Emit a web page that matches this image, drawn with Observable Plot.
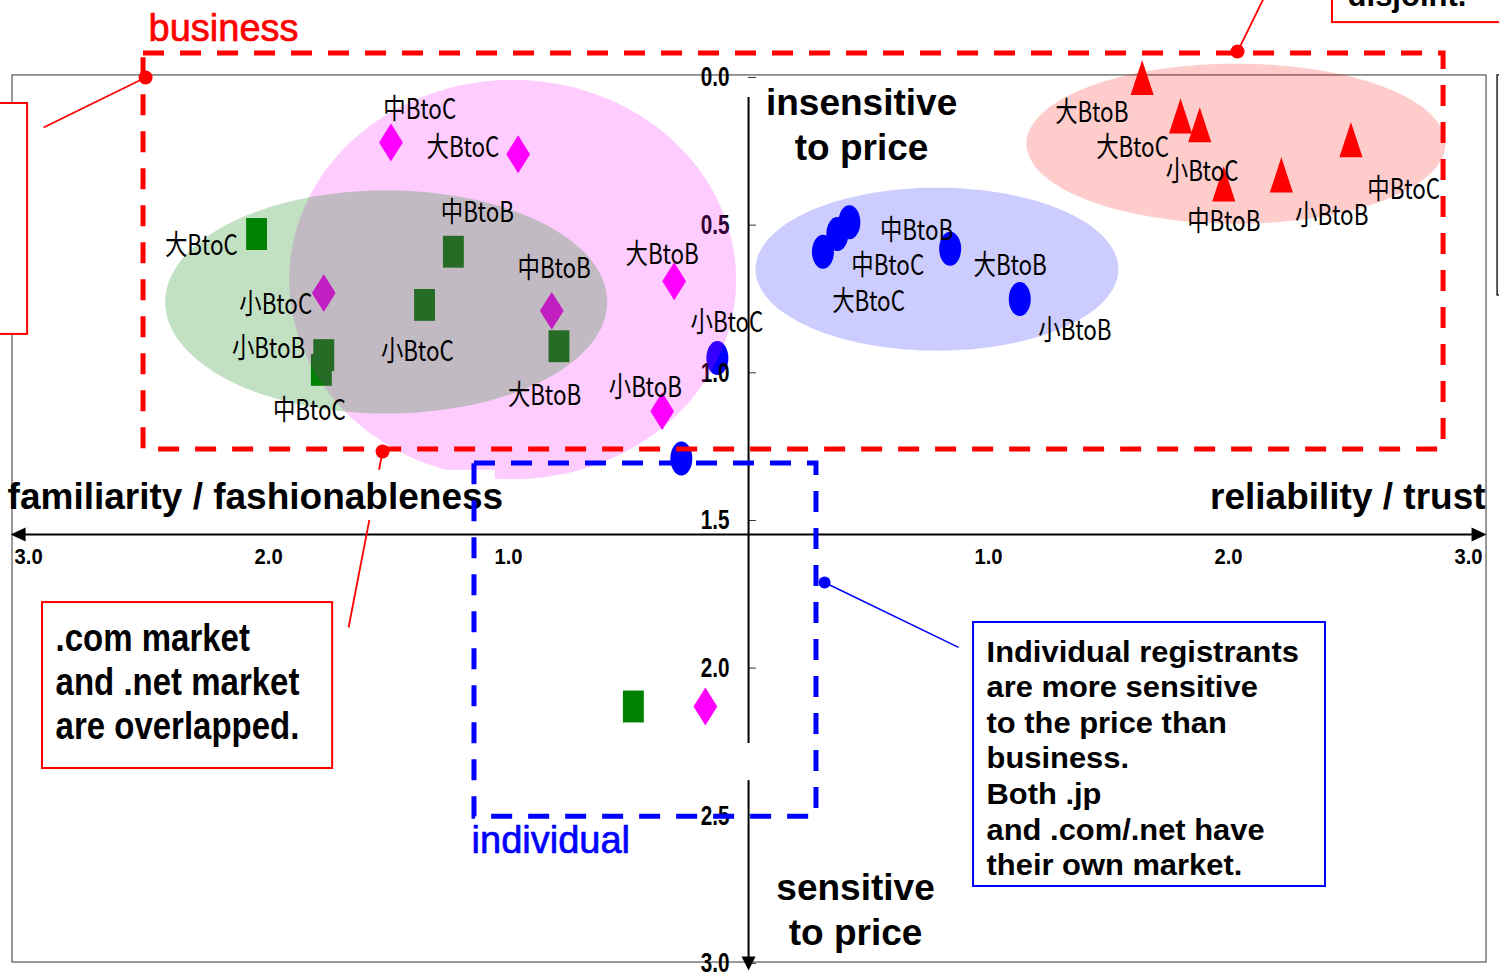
<!DOCTYPE html>
<html>
<head>
<meta charset="utf-8">
<script src="https://cdn.jsdelivr.net/npm/d3@7"></script>
<script src="https://cdn.jsdelivr.net/npm/@observablehq/plot@0.6"></script>
<style>
html, body { margin: 0; padding: 0; background: #fff; overflow: hidden; }
#chart svg { display: block; }
</style>
</head>
<body>
<div id="chart"></div>
<script>
// x < 0 : familiarity / fashionableness, x > 0 : reliability / trust
// y : 0 = insensitive to price ... 3 = sensitive to price
const comX = [-2.05, -1.23, -1.35, -0.79, -1.77, -1.78, -0.48];
const comY = [0.53, 0.59, 0.77, 0.91, 0.94, 0.99, 2.13];
const comLabels = ["大BtoC", "中BtoB", "小BtoC", "大BtoB", "小BtoB", "中BtoC", ""];
const comLabelX = [-2.28, -1.13, -1.38, -0.85, -2.00, -1.83, null];
const comLabelY = [0.57, 0.46, 0.93, 1.08, 0.92, 1.13, null];

const netX = [-1.49, -0.96, -1.77, -0.82, -0.31, -0.36, -0.18];
const netY = [0.22, 0.26, 0.73, 0.79, 0.69, 1.13, 2.13];
const netLabels = ["中BtoC", "大BtoC", "小BtoC", "中BtoB", "大BtoB", "小BtoB", ""];
const netLabelX = [-1.37, -1.19, -1.97, -0.81, -0.36, -0.43, null];
const netLabelY = [0.11, 0.24, 0.77, 0.65, 0.60, 1.05, null];

const jpX = [0.42, 0.37, 0.31, 0.84, 1.13, -0.13, -0.28];
const jpY = [0.49, 0.53, 0.59, 0.58, 0.75, 0.95, 1.29];
const jpLabels = ["中BtoB", "中BtoC", "大BtoC", "大BtoB", "小BtoB", "小BtoC", ""];
const jpLabelX = [0.70, 0.58, 0.50, 1.09, 1.36, -0.09, null];
const jpLabelY = [0.52, 0.64, 0.76, 0.64, 0.86, 0.83, null];

const cojpX = [1.64, 1.80, 1.88, 1.98, 2.22, 2.51];
const cojpY = [0.00, 0.13, 0.16, 0.36, 0.33, 0.21];
const cojpLabels = ["大BtoB", "大BtoC", "小BtoC", "中BtoB", "小BtoB", "中BtoC"];
const cojpLabelX = [1.43, 1.60, 1.89, 1.98, 2.43, 2.73];
const cojpLabelY = [0.12, 0.24, 0.32, 0.49, 0.47, 0.38];

// market clusters (ellipses): .net, .com, .jp, .co.jp
const clusterCX = [-0.983, -1.510, 0.785, 2.031];
const clusterCY = [0.684, 0.760, 0.649, 0.224];
const clusterRX = [0.931, 0.921, 0.756, 0.873];
const clusterRY = [0.676, 0.378, 0.276, 0.271];

const yTicks = [0, 0.5, 1, 1.5, 2, 2.5, 3];
const xTicks = [-3, -2, -1, 1, 2, 3];
const xAxisAt = [1.5476];

// annotations
const businessZone = [{x1: -2.521, x2: 2.896, y1: -0.081, y2: 1.260}];
const individualZone = [{x1: -1.142, x2: 0.283, y1: 1.307, y2: 2.503}];
const redBoxes = [
  {x1: -2.942, x2: -1.733, y1: 1.778, y2: 2.340},
  {x1: -3.300, x2: -3.004, y1: 0.088, y2: 0.870},
  {x1: 2.433, x2: 3.300, y1: -0.450, y2: -0.186}
];
const blueBoxes = [{x1: 0.9375, x2: 2.404, y1: 1.8456, y2: 2.7396}];
const blackBoxes = [{x1: 3.121, x2: 3.400, y1: -0.007, y2: 0.738}];
const redPins = [
  {x: -2.5125, y: 0.000, x2: -2.9375, y2: 0.1693},
  {x: 2.0375, y: -0.088, x2: 2.146, y2: -0.2675},
  {x: -1.525, y: 1.2665, x2: -1.6667, y2: 1.8625}
];
const bluePins = [{x: 0.3167, y: 1.710, x2: 0.875, y2: 1.930}];
const redNote = [{x: -2.8875, y: 2.045, text: ".com market\nand .net market\nare overlapped."}];
const blueNote = [{x: 0.9917, y: 2.301, text: "Individual registrants\nare more sensitive\nto the price than\nbusiness.\nBoth .jp\nand .com/.net have\ntheir own market."}];

// ---- build rows
const rows = (xs, ys, labels, lxs, lys) => xs.map((x, i) => ({x, y: ys[i], label: labels[i], lx: lxs[i], ly: lys[i]}));
const com = rows(comX, comY, comLabels, comLabelX, comLabelY);
const net = rows(netX, netY, netLabels, netLabelX, netLabelY);
const jp = rows(jpX, jpY, jpLabels, jpLabelX, jpLabelY);
const cojp = rows(cojpX, cojpY, cojpLabels, cojpLabelX, cojpLabelY);
const labelled = [...com, ...net, ...jp, ...cojp].filter(d => d.label);

const ellipse = (i) => d3.range(0, 360, 2).map(a => ({
  x: clusterCX[i] + clusterRX[i] * Math.cos(a * Math.PI / 180),
  y: clusterCY[i] + clusterRY[i] * Math.sin(a * Math.PI / 180)
}));

// ---- custom (vertically stretched) symbols
const rad = s => Math.sqrt(s / Math.PI);
const symRect = {draw(c, s) { const r = rad(s), w = r * 0.95, h = r * 1.45; c.moveTo(-w, -h); c.lineTo(w, -h); c.lineTo(w, h); c.lineTo(-w, h); c.closePath(); }};
const symDiamond = {draw(c, s) { const r = rad(s), w = r * 1.08, h = r * 1.72; c.moveTo(0, -h); c.lineTo(w, 0); c.lineTo(0, h); c.lineTo(-w, 0); c.closePath(); }};
const symOval = {draw(c, s) { const r = rad(s), a = r, b = r * 1.55, k = 0.5523;
  c.moveTo(a, 0); c.bezierCurveTo(a, b * k, a * k, b, 0, b); c.bezierCurveTo(-a * k, b, -a, b * k, -a, 0);
  c.bezierCurveTo(-a, -b * k, -a * k, -b, 0, -b); c.bezierCurveTo(a * k, -b, a, -b * k, a, 0); c.closePath(); }};
const symTriangle = {draw(c, s) { const r = rad(s), w = r * 1.05, h = r * 1.6; c.moveTo(0, -h); c.lineTo(w, h); c.lineTo(-w, h); c.closePath(); }};
const arrowDown = {draw(c, s) { const r = rad(s), w = r * 0.5; c.moveTo(0, 0); c.lineTo(w, -r); c.lineTo(-w, -r); c.closePath(); }};
const arrowRight = {draw(c, s) { const r = rad(s), w = r * 0.47; c.moveTo(0, 0); c.lineTo(-r, -w); c.lineTo(-r, w); c.closePath(); }};
const arrowLeft = {draw(c, s) { const r = rad(s), w = r * 0.47; c.moveTo(0, 0); c.lineTo(r, -w); c.lineTo(r, w); c.closePath(); }};

const LAT = "Liberation Sans, Arial, sans-serif";
const CJK = "Noto Sans CJK JP, sans-serif";
const clusterFill = ["#ff00ff", "#008000", "#0000ff", "#ff0000"];
const tag = name => ({ariaLabel: () => name, ariaDescription: name});

const plot = Plot.plot({
  width: 1499,
  height: 973,
  margin: 0,
  style: {background: "white", fontFamily: LAT},
  x: {domain: [-3.117, 3.129], axis: null},
  y: {domain: [-0.2608, 3.0342], reverse: true, axis: null},
  marks: [
    // outer frame
    Plot.rect([0], {x1: -3.067, x2: 3.075, y1: -0.007, y2: 2.997, fill: "none", stroke: "#555", strokeWidth: 1.2}),
    Plot.rect(blackBoxes, {x1: "x1", x2: "x2", y1: "y1", y2: "y2", fill: "white", stroke: "#222", strokeWidth: 1.5}),
    // axes
    Plot.ruleY(yTicks, {x1: 0, x2: 0.033, stroke: "#333", strokeWidth: 1}),
    Plot.ruleX([{y1: 0.068, y2: 2.255}, {y1: 2.381, y2: 2.98}], {x: 0, y1: "y1", y2: "y2", stroke: "black", strokeWidth: 2}),
    Plot.dot([0], {x: 0, y: 3.024, symbol: arrowDown, r: 14, fill: "black"}),
    Plot.ruleY(xAxisAt, {x1: -3.03, x2: 3.03, stroke: "black", strokeWidth: 2}),
    Plot.dot(xAxisAt, {x: 3.075, y: d => d, symbol: arrowRight, r: 15, fill: "black"}),
    Plot.dot(xAxisAt, {x: -3.075, y: d => d, symbol: arrowLeft, r: 15, fill: "black"}),
    // markers
    Plot.dot(com, {x: "x", y: "y", symbol: symRect, r: 11, fill: "#008000"}),
    Plot.dot(net, {x: "x", y: "y", symbol: symDiamond, r: 11, fill: "#ff00ff"}),
    Plot.dot(jp, {x: "x", y: "y", symbol: symOval, r: 11, fill: "#0000ff"}),
    Plot.dot(cojp, {x: "x", y: "y", symbol: symTriangle, r: 11, fill: "#ff0000"}),
    // tick labels
    Plot.text(yTicks, {x: 0, y: d => d, text: d => d.toFixed(1), textAnchor: "end", dx: -19, fontSize: 28, fontWeight: "bold", fontFamily: LAT, fill: "black", ...tag("ytick-labels")}),
    Plot.text(xTicks, {x: d => d, y: 1.622, text: d => Math.abs(d).toFixed(1), fontSize: 22, fontWeight: "bold", fontFamily: LAT, fill: "black", ...tag("xtick-labels")}),
    // market ellipses
    ...[0, 1, 2, 3].map(i => Plot.line(ellipse(i), {x: "x", y: "y", curve: "linear-closed", fill: clusterFill[i], fillOpacity: i === 1 ? 0.24 : 0.2, stroke: "none"})),
    // connectors
    Plot.link(redPins, {x1: "x", y1: "y", x2: "x2", y2: "y2", stroke: "#ff0000", strokeWidth: 1.8}),
    Plot.link(bluePins, {x1: "x", y1: "y", x2: "x2", y2: "y2", stroke: "#0000ff", strokeWidth: 1.5}),
    // white box behind left axis title
    Plot.rect([0], {x1: -3.06, x2: -1.055, y1: 1.33, y2: 1.50, fill: "white"}),
    Plot.text(["familiarity / fashionableness"], {x: -3.0875, y: 1.4196, text: d => d, textAnchor: "start", fontSize: 37, fontWeight: "bold", fontFamily: LAT, fill: "black"}),
    Plot.text(["reliability / trust"], {x: 3.0708, y: 1.4196, text: d => d, textAnchor: "end", fontSize: 37, fontWeight: "bold", fontFamily: LAT, fill: "black"}),
    Plot.text(["insensitive\nto price"], {x: 0.471, y: 0.156, text: d => d, fontSize: 37, lineHeight: 1.216, fontWeight: "bold", fontFamily: LAT, fill: "black"}),
    Plot.text(["sensitive\nto price"], {x: 0.4458, y: 2.813, text: d => d, fontSize: 37, lineHeight: 1.216, fontWeight: "bold", fontFamily: LAT, fill: "black"}),
    // point labels
    Plot.text(labelled, {x: "lx", y: "ly", text: "label", fontSize: 28, fontFamily: CJK, fill: "black", ...tag("point-labels")}),
    // zones
    Plot.rect(businessZone, {x1: "x1", x2: "x2", y1: "y1", y2: "y2", fill: "none", stroke: "#ff0000", strokeWidth: 5, strokeDasharray: "21,16"}),
    Plot.rect(individualZone, {x1: "x1", x2: "x2", y1: "y1", y2: "y2", fill: "none", stroke: "#0000ff", strokeWidth: 5, strokeDasharray: "21,16"}),
    Plot.dot(redPins, {x: "x", y: "y", r: 7, fill: "#ff0000"}),
    Plot.dot(bluePins, {x: "x", y: "y", r: 6, fill: "#0000ff"}),
    // note boxes
    Plot.rect(redBoxes, {x1: "x1", x2: "x2", y1: "y1", y2: "y2", fill: "white", stroke: "#ff0000", strokeWidth: 2}),
    Plot.rect(blueBoxes, {x1: "x1", x2: "x2", y1: "y1", y2: "y2", fill: "white", stroke: "#0000ff", strokeWidth: 2}),
    Plot.text(redNote, {x: "x", y: "y", text: "text", textAnchor: "start", fontSize: 33, lineHeight: 1.111, fontWeight: "bold", fontFamily: LAT, fill: "black", ...tag("red-note")}),
    Plot.text(blueNote, {x: "x", y: "y", text: "text", textAnchor: "start", fontSize: 30, lineHeight: 1.187, fontWeight: "bold", fontFamily: LAT, fill: "black", ...tag("blue-note")}),
    Plot.text(["disjoint."], {x: 2.496, y: -0.277, text: d => d, textAnchor: "start", fontSize: 31, fontWeight: "bold", fontFamily: LAT, fill: "black"}),
    // zone titles
    Plot.text(["business"], {x: -2.5, y: -0.1632, text: d => d, textAnchor: "start", fontSize: 38, fontFamily: LAT, fill: "#ff0000", stroke: "#ff0000", strokeWidth: 0.7}),
    Plot.text(["individual"], {x: -1.154, y: 2.5865, text: d => d, textAnchor: "start", fontSize: 38, fontFamily: LAT, fill: "#0000ff", stroke: "#0000ff", strokeWidth: 0.7})
  ]
});

function squeeze(root, label, sx, sy = 1) {
  const found = new Set();
  root.querySelectorAll(`[aria-label="${label}"], [aria-description="${label}"]`).forEach(el => {
    if (el.tagName.toLowerCase() === "text") found.add(el);
    else el.querySelectorAll("text").forEach(t => found.add(t));
  });
  found.forEach(t => {
    const tr = t.getAttribute("transform") || "";
    t.setAttribute("transform", `${tr} scale(${sx},${sy})`);
  });
}
squeeze(plot, "point-labels", 0.8);
squeeze(plot, "ytick-labels", 0.74);
squeeze(plot, "xtick-labels", 0.92);
squeeze(plot, "red-note", 1, 1.2);
squeeze(plot, "blue-note", 1.03);

document.getElementById("chart").appendChild(plot);
</script>
</body>
</html>
